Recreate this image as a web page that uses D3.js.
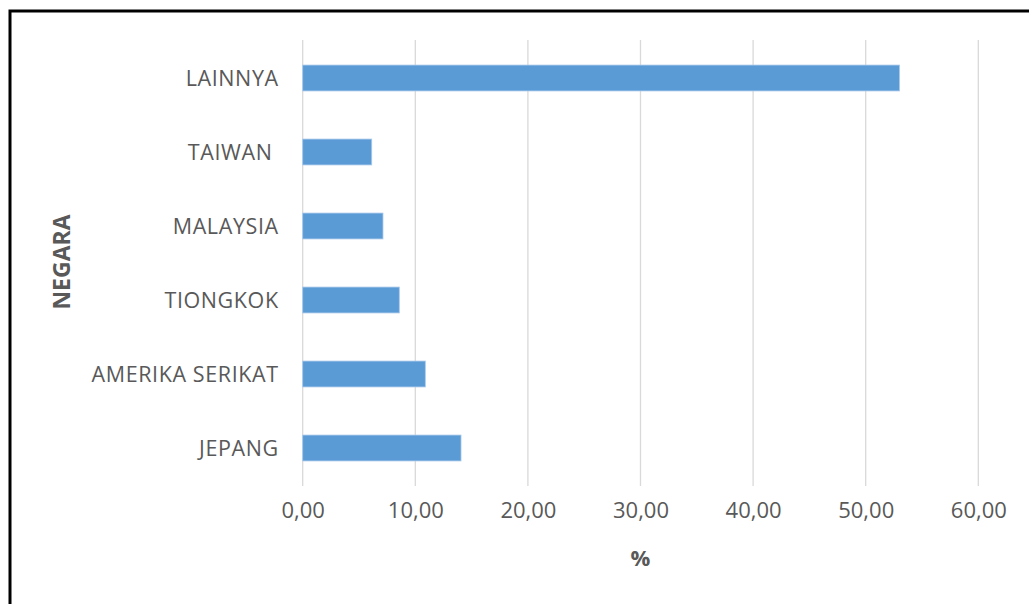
<!DOCTYPE html>
<html><head><meta charset="utf-8">
<script src="https://cdn.jsdelivr.net/npm/d3@7"></script>
<style>html,body{margin:0;padding:0;background:#fff;overflow:hidden}</style>
</head><body>
<svg id="c" width="1029" height="604"></svg>
<script>
const categories = ["LAINNYA", "TAIWAN ", "MALAYSIA", "TIONGKOK", "AMERIKA SERIKAT", "JEPANG"];
const values = [53.0, 6.13, 7.13, 8.58, 10.89, 14.06];
const xTicks = [0, 10, 20, 30, 40, 50, 60];
const xTitle = "%";
const yTitle = "NEGARA";

(function(){
const svg = d3.select("#c");
svg.append("rect").attr("width",1029).attr("height",604).attr("fill","#fff");
// outer frame
svg.append("rect").attr("x",10).attr("y",11).attr("width",1040).attr("height",620)
  .attr("fill","none").attr("stroke","#000").attr("stroke-width",3);

const pLeft = 302.7, pRight = 978.3, pTop = 41, pBottom = 485;
const x = d3.scaleLinear().domain([0,60]).range([pLeft,pRight]);
const y = d3.scaleBand().domain(categories).range([pTop,pBottom]).paddingInner(0.65).paddingOuter(0.325);

// gridlines
svg.append("g").selectAll("line").data(xTicks).join("line")
  .attr("x1",d=>x(d)).attr("x2",d=>x(d)).attr("y1",40).attr("y2",486)
  .attr("stroke","#d9d9d9").attr("stroke-width",1.3);

// bars
svg.append("g").selectAll("rect").data(categories).join("rect")
  .attr("x",x(0)).attr("y",d=>y(d)).attr("height",y.bandwidth())
  .attr("width",(d,i)=>x(values[i])-x(0))
  .attr("fill","#5b9bd5").attr("stroke","#a9c9ea").attr("stroke-width",0.8);

const font = "'Open Sans', sans-serif";
// x axis tick labels
const xa = d3.axisBottom(x).tickValues(xTicks).tickSize(0).tickPadding(0)
  .tickFormat(d=>d3.format(".2f")(d).replace(".",","));
const gx = svg.append("g").attr("transform",`translate(0,${502})`).call(xa);
gx.select(".domain").remove();
gx.selectAll("text").attr("font-family",font).attr("font-size",22).attr("fill","#595959").attr("dy","0.71em");

// y axis labels
const ya = d3.axisLeft(y).tickSize(0).tickPadding(24);
const gy = svg.append("g").attr("transform",`translate(${x(0)},0)`).call(ya);
gy.select(".domain").remove();
gy.selectAll("text").attr("font-family",font).attr("font-size",21.5).attr("fill","#595959")
  .attr("dy","0.36em").attr("letter-spacing",0.6).style("white-space","pre");

// titles
svg.append("text").attr("x",(pLeft+pRight)/2).attr("y",566).attr("text-anchor","middle")
  .attr("font-family",font).attr("font-weight","bold").attr("font-size",22).attr("fill","#595959").text(xTitle);
svg.append("text").attr("transform","translate(70,262) rotate(-90)").attr("text-anchor","middle")
  .attr("font-family",font).attr("font-weight","bold").attr("font-size",23).attr("fill","#595959").text(yTitle);
})();
</script>
</body></html>
